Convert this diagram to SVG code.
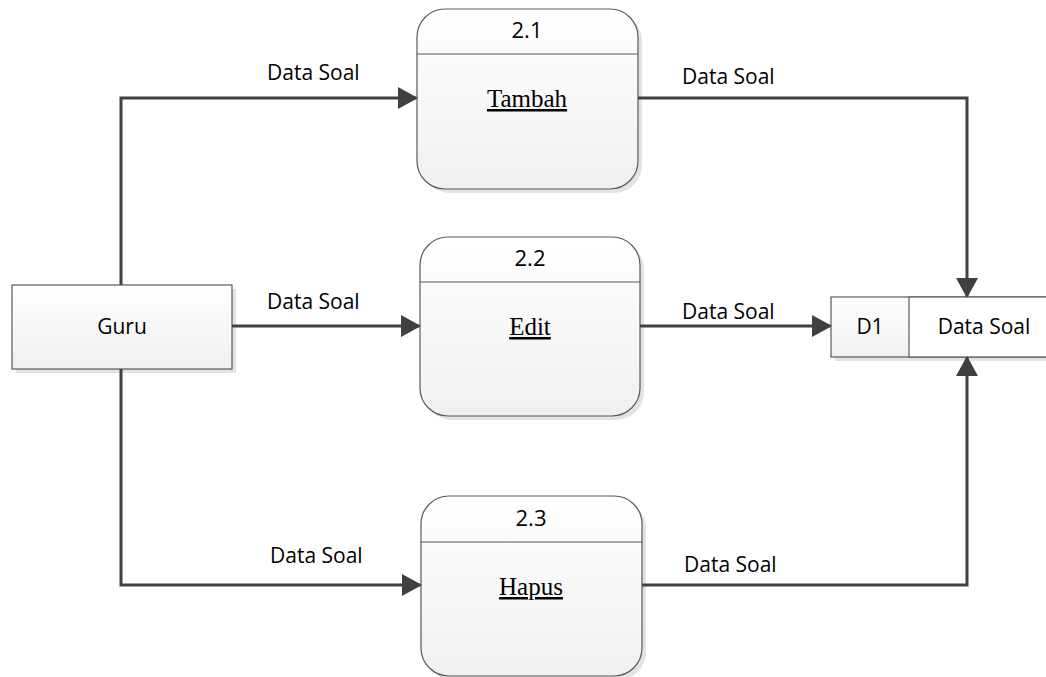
<svg xmlns="http://www.w3.org/2000/svg" width="1046" height="677" viewBox="0 0 1046 677">
  <style>
    .shape { stroke: #595959; stroke-width: 1.2; fill: url(#fillGrad); }
    .shadow { fill: #e3e3e3; stroke: none; }
    .sep { stroke: #595959; stroke-width: 1.2; }
    .flow { fill: none; stroke: #404040; stroke-width: 3; }
    .lbl { font-family: "Open Sans", "Noto Sans", sans-serif; font-size: 21px; fill: #000; }
    .num { font-family: "Open Sans", "Noto Sans", sans-serif; font-size: 22px; fill: #000; text-anchor: middle; }
    .pname { font-family: "Liberation Serif", serif; font-size: 25px; fill: #000; text-anchor: middle; text-decoration: underline; }
  </style>
  <defs>
    <linearGradient id="fillGrad" x1="0" y1="0" x2="0" y2="1">
      <stop offset="0" stop-color="#ffffff"/>
      <stop offset="1" stop-color="#f0f0f0"/>
    </linearGradient>
    <marker id="arrow" markerWidth="20" markerHeight="22" refX="18" refY="11" orient="auto" markerUnits="userSpaceOnUse">
      <path d="M0,0 L20,11 L0,22 Z" fill="#404040"/>
    </marker>
  </defs>

  <rect width="1046" height="677" fill="#ffffff"/>

  <!-- external entity -->
  <g id="guru">
    <rect class="shadow" x="16" y="289" width="220" height="84"/>
    <rect class="shape" x="12" y="285" width="220" height="84"/>
    <text class="lbl" x="122" y="334" text-anchor="middle">Guru</text>
  </g>

  <!-- processes -->
  <g id="proc-2-1">
    <rect class="shadow" x="421" y="13" width="221" height="180" rx="28"/>
    <rect class="shape" x="417" y="9" width="221" height="180" rx="28"/>
    <line class="sep" x1="417" y1="54" x2="638" y2="54"/>
    <text class="num" x="527" y="38">2.1</text>
    <text class="pname" x="527" y="107">Tambah</text>
  </g>

  <g id="proc-2-2">
    <rect class="shadow" x="424" y="241" width="220" height="179" rx="28"/>
    <rect class="shape" x="420" y="237" width="220" height="179" rx="28"/>
    <line class="sep" x1="420" y1="282" x2="640" y2="282"/>
    <text class="num" x="530" y="266">2.2</text>
    <text class="pname" x="530" y="335">Edit</text>
  </g>

  <g id="proc-2-3">
    <rect class="shadow" x="425" y="500" width="221" height="180" rx="28"/>
    <rect class="shape" x="421" y="496" width="221" height="180" rx="28"/>
    <line class="sep" x1="421" y1="542" x2="642" y2="542"/>
    <text class="num" x="531" y="526">2.3</text>
    <text class="pname" x="531" y="595">Hapus</text>
  </g>

  <!-- data store -->
  <g id="store-d1">
    <rect class="shadow" x="835" y="301" width="215" height="60"/>
    <rect class="shape" x="831" y="297" width="220" height="60"/>
    <rect x="909" y="297" width="142" height="60" fill="#ffffff" stroke="#595959" stroke-width="1.2"/>
    <text class="lbl" x="870" y="334" text-anchor="middle">D1</text>
    <text class="lbl" x="984" y="334" text-anchor="middle">Data Soal</text>
  </g>

  <!-- data flows -->
  <g id="connectors">
    <polyline class="flow" points="121,285 121,98 416,98" marker-end="url(#arrow)"/>
    <polyline class="flow" points="232,326 419,326" marker-end="url(#arrow)"/>
    <polyline class="flow" points="121,369 121,585 420,585" marker-end="url(#arrow)"/>
    <polyline class="flow" points="638,98 967,98 967,296" marker-end="url(#arrow)"/>
    <polyline class="flow" points="640,326 830,326" marker-end="url(#arrow)"/>
    <polyline class="flow" points="642,585 967,585 967,358" marker-end="url(#arrow)"/>
    <text class="lbl" x="267" y="80">Data Soal</text>
    <text class="lbl" x="682" y="84">Data Soal</text>
    <text class="lbl" x="267" y="309">Data Soal</text>
    <text class="lbl" x="682" y="319">Data Soal</text>
    <text class="lbl" x="270" y="563">Data Soal</text>
    <text class="lbl" x="684" y="572">Data Soal</text>
  </g>
</svg>
